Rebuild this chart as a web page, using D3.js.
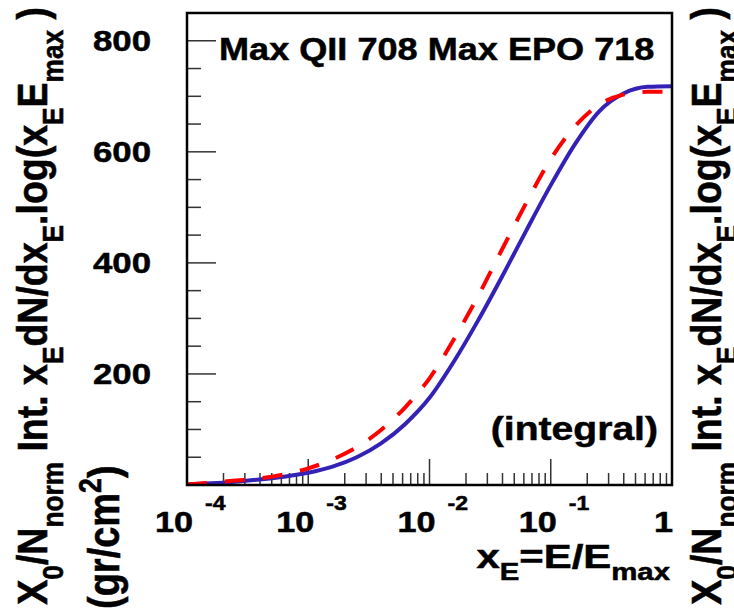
<!DOCTYPE html>
<html>
<head>
<meta charset="utf-8">
<script src="https://cdn.jsdelivr.net/npm/d3@7"></script>
<style>
  body { margin: 0; background: #fff; }
  svg { display: block; font-family: "Liberation Sans", Arial, sans-serif; font-weight: bold; }
</style>
</head>
<body>
<svg id="chart" width="734" height="612"></svg>
<script>
// log10(x_E) sample points
const logXE = [-4, -3.8, -3.6, -3.4, -3.2, -3, -2.8, -2.6, -2.4, -2.2, -2, -1.8, -1.6, -1.4, -1.2, -1, -0.8, -0.6, -0.4, -0.2, 0];
// solid blue curve (EPO)
const epoValues = [1, 3, 6, 10, 15, 22, 33, 50, 75, 110, 157, 222, 296, 376, 459, 540, 614, 673, 705, 717, 718];
// dashed red curve (QII)
const qiiValues = [1, 4, 8, 12, 19, 30, 46, 68, 99, 140, 192, 262, 340, 425, 509, 587, 646, 685, 703, 708, 708];

const yMajorTicks = [200, 400, 600, 800];
const xMajorExp = [-4, -3, -2, -1];
const titleText = "Max QII 708 Max EPO 718";
const noteText = "(integral)";

const stretch = 1.15; // the original canvas looks stretched sideways

const svg = d3.select("#chart");
const frame = { left: 187, right: 672, top: 13, bottom: 485 };

const x = d3.scaleLog().domain([1e-4, 1]).range([frame.left, frame.right]);
const y = d3.scaleLinear().domain([0, 850]).range([frame.bottom, frame.top]);

function richText(parent, px, py, parts, size, anchor, rotated, k) {
  k = k || stretch;
  const t = parent.append("text")
    .attr("transform", rotated
      ? `translate(${px},${py}) rotate(-90) scale(1,${k})`
      : `translate(${px},${py}) scale(${k},1)`)
    .attr("text-anchor", anchor)
    .style("font-size", size + "px")
    .attr("fill", "#000")
    .attr("stroke", "#000")
    .attr("stroke-width", 0.5);
  let shift = 0;
  parts.forEach((p) => {
    const target = p.sub ? size * 0.36 : p.sup ? -size * 0.42 : 0;
    t.append("tspan")
      .attr("dy", target - shift)
      .style("font-size", (p.sub || p.sup ? size * 0.7 : size) + "px")
      .text(p.t);
    shift = target;
  });
  return t;
}

svg.append("defs").append("clipPath").attr("id", "clip")
  .append("rect")
  .attr("x", frame.left).attr("y", frame.top)
  .attr("width", frame.right - frame.left)
  .attr("height", frame.bottom - frame.top);

// y ticks, inside the left edge
const yTicks = d3.range(0, 851, 50);
svg.append("g")
  .selectAll("line")
  .data(yTicks)
  .join("line")
  .attr("x1", frame.left)
  .attr("x2", (d) => frame.left + (d % 200 === 0 ? 29 : 14))
  .attr("y1", (d) => y(d))
  .attr("y2", (d) => y(d))
  .attr("stroke", "#333")
  .attr("stroke-width", 1.5);

// x ticks, inside the bottom edge
const xTicks = [];
xMajorExp.forEach((e) => {
  for (let m = 1; m < 10; m++) xTicks.push({ v: m * Math.pow(10, e), major: m === 1 });
});
svg.append("g")
  .selectAll("line")
  .data(xTicks)
  .join("line")
  .attr("x1", (d) => x(d.v))
  .attr("x2", (d) => x(d.v))
  .attr("y1", frame.bottom)
  .attr("y2", (d) => frame.bottom - (d.major ? 26 : 12))
  .attr("stroke", "#333")
  .attr("stroke-width", 1.5);

// curves
const line = d3.line()
  .x((d) => x(Math.pow(10, d[0])))
  .y((d) => y(d[1]))
  .curve(d3.curveMonotoneX);

const plot = svg.append("g").attr("clip-path", "url(#clip)");
plot.append("path")
  .datum(logXE.map((l, i) => [l, epoValues[i]]))
  .attr("fill", "none")
  .attr("stroke", "#3322b5")
  .attr("stroke-width", 4)
  .attr("d", line);
plot.append("path")
  .datum(logXE.map((l, i) => [l, qiiValues[i]]))
  .attr("fill", "none")
  .attr("stroke", "#ff0000")
  .attr("stroke-width", 4)
  .attr("stroke-dasharray", "20,18")
  .attr("d", line);

// frame
svg.append("rect")
  .attr("x", frame.left).attr("y", frame.top)
  .attr("width", frame.right - frame.left)
  .attr("height", frame.bottom - frame.top)
  .attr("fill", "none")
  .attr("stroke", "#000")
  .attr("stroke-width", 2.5);

// y tick labels
yMajorTicks.forEach((v) => {
  richText(svg, 151, y(v) + 10, [{ t: String(v) }], 30, "end", false, 1.16);
});

// x tick labels
xMajorExp.forEach((e) => {
  const px = x(Math.pow(10, e));
  richText(svg, px + 6, 532, [{ t: "10" }], 29, "end", false, 1.18);
  richText(svg, px + 18, 510, [{ t: String(e) }], 20, "start", false);
});
richText(svg, frame.right + 1, 532, [{ t: "1" }], 29, "end", false, 1.18);

// texts inside the frame
richText(svg, 219, 60, [{ t: titleText }], 31.4, "start", false);
richText(svg, 658, 440, [{ t: noteText }], 34, "end", false);

// axis titles
richText(svg, 670, 568, [
  { t: "x" }, { t: "E", sub: true }, { t: "=E/E" }, { t: "max", sub: true }
], 33, "end", false, 1.27);

const yTitle = [
  { t: "X" }, { t: "0", sub: true }, { t: "/N" }, { t: "norm", sub: true },
  { t: " Int. x" }, { t: "E", sub: true }, { t: "dN/dx" }, { t: "E", sub: true },
  { t: ".log(x" }, { t: "E", sub: true }, { t: "E" }, { t: "max", sub: true }, { t: " )" }
];
richText(svg, 47, 7, yTitle, 37.5, "end", true);
richText(svg, 721, 7, yTitle, 37.5, "end", true);
richText(svg, 119, 609, [
  { t: "(gr/cm" }, { t: "2", sup: true }, { t: ")" }
], 38, "start", true);
</script>
</body>
</html>
